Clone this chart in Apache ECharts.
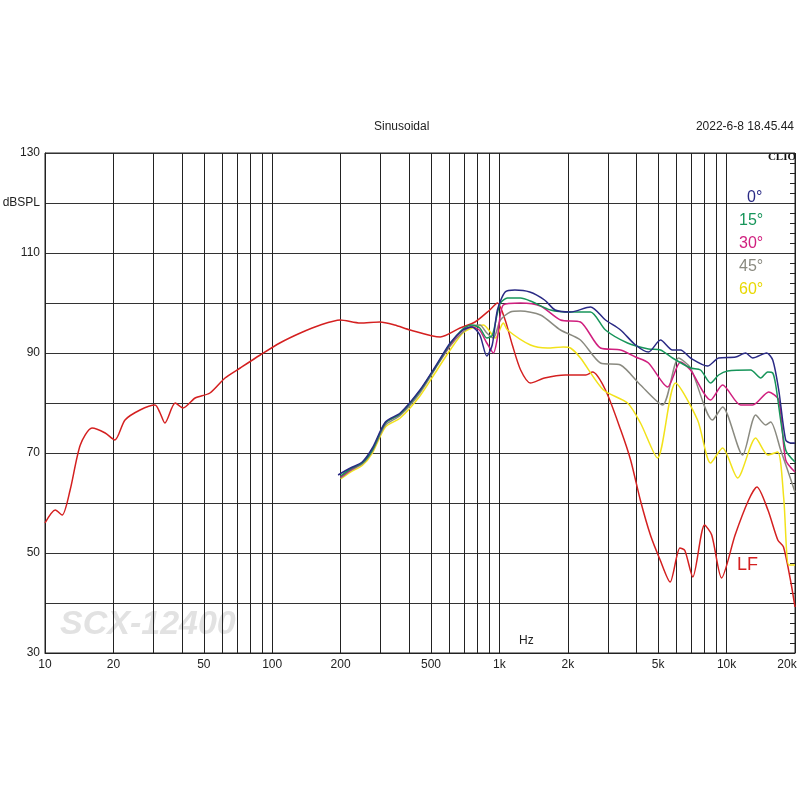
<!DOCTYPE html>
<html><head><meta charset="utf-8">
<script src="https://cdn.jsdelivr.net/npm/echarts@6/dist/echarts.min.js"></script>
<style>html,body{margin:0;padding:0;background:#fff}#c{width:800px;height:800px}</style>
</head><body><div id="c"></div>
<script>
const gridFreqs = [10,20,30,40,50,60,70,80,90,100,200,300,400,500,600,700,800,900,1000,2000,3000,4000,5000,6000,7000,8000,9000,10000,20000];
const tickLabels = {10:'10',20:'20',50:'50',100:'100',200:'200',500:'500',1000:'1k',2000:'2k',5000:'5k',10000:'10k',20000:'20k'};
const yLabels = {30:'30',50:'50',70:'70',90:'90',110:'110',120:'dBSPL',130:'130'};
const seriesNames = ['0°','15°','30°','45°','60°','LF'];
const seriesColors = ['#2a2a85','#17955a','#d0207f','#8a8a80','#f2e21a','#d42020'];

const deg0 = [[195,65.6],[221,67],[249,68.2],[276,71],[315,76.2],[366,78],[447,82.6],[521,87.2],[607,92],[690,94.6],[757,95.2],[820,93.6],[880,89.4],[930,91.6],[980,98.6],[1060,102.2],[1170,102.6],[1360,102.2],[1580,100.6],[1760,98.6],[2055,98.2],[2516,99.2],[2930,96.6],[3413,94.6],[3972,91.6],[4531,90.2],[5117,92.6],[5779,90.6],[6270,90.6],[6937,89],[8241,87.4],[9221,89],[10960,89.2],[12130,90],[13030,89],[15000,90],[15960,88.6],[16960,82.6],[18200,72.6],[19150,72],[20000,72]];
const deg15 = [[200,65.4],[221,66.8],[249,68],[276,70.6],[315,76],[366,77.8],[447,82.4],[521,87],[607,91.8],[690,94.8],[757,95.6],[820,95],[880,93],[930,93.5],[980,98],[1010,100],[1085,101],[1238,101],[1370,100.4],[1678,98.6],[2055,98.2],[2516,98.2],[2931,94.6],[3664,92],[4531,90.8],[5117,90.6],[5779,89],[6937,87],[7677,86.6],[8502,84],[9221,85.6],[10100,86.4],[12760,86.6],[14130,85],[15170,86.2],[15960,86],[16450,83.6],[18200,70.6],[20000,68.2]];
const deg30 = [[200,65.2],[221,66.6],[249,68],[276,70.6],[315,76],[366,77.8],[447,82.4],[521,87],[607,91.6],[690,94.6],[757,95.2],[820,94.5],[880,92],[941,90],[980,93],[1040,99.6],[1238,100],[1516,99.4],[1857,96.6],[2274,96.2],[2785,91],[3413,90.6],[3972,89.2],[4531,88],[5494,83.2],[6270,88.2],[6937,86.6],[8502,80.6],[9600,83.6],[11530,79.6],[13030,79.6],[15310,82.2],[16960,80.6],[18200,68.6],[20000,66.2]];
const deg45 = [[200,65],[221,66.5],[249,67.8],[276,70.4],[315,75.6],[366,77.5],[447,82],[521,86.8],[607,91.4],[690,94.2],[757,95.4],[820,95.6],[880,94],[941,93],[1010,96.6],[1117,98.2],[1238,98.4],[1516,97.6],[1857,94.6],[2274,92.6],[2785,88],[3413,87.6],[4178,83.6],[5224,79.6],[6148,89],[6937,87],[8672,76.6],[9600,79.2],[11760,69.6],[13430,77.6],[14860,75.6],[15630,76.2],[17300,70.6],[20000,62.2]];
const deg60 = [[200,64.8],[221,66.2],[249,67.5],[276,70],[315,75.2],[366,77],[447,81.4],[521,86],[607,90.6],[690,94],[757,95],[851,95.6],[960,93],[1040,96],[1085,94.6],[1370,91.6],[1627,91],[1914,91.2],[2055,91],[2274,89],[2871,82.6],[3664,80],[4178,76],[4963,69],[5958,84],[7450,76.6],[8502,68],[9600,71],[11180,65],[13430,73],[15170,69.6],[16790,70.2],[17840,61],[18760,47.6],[20000,47.6]];
const lf = [[10,56],[11.1,58.6],[11.9,57.6],[12.9,62.6],[14.3,71.6],[16.1,75],[18.4,74],[20.3,72.6],[22.5,76.6],[26.2,78.6],[30.5,79.6],[32.1,78],[33.7,76],[37.4,80],[40.5,79],[45.8,81],[53.2,82],[62,85],[72.3,87],[88.6,89.6],[108,92],[133,94],[163,95.6],[199,96.6],[244,96],[298,96.2],[346,95.6],[405,94.6],[549,93.2],[671,95],[781,96.2],[907,98.6],[980,100],[1060,96.6],[1140,91.6],[1240,86.6],[1370,84],[1580,85],[1950,85.6],[2400,85.6],[2570,86.2],[2930,82.6],[3420,74.6],[3780,68.6],[4170,60.6],[4620,53.6],[5100,48.6],[5640,44.2],[6230,51],[6550,50.5],[7100,45.2],[8000,55.6],[8600,53.6],[9500,45],[10900,53.6],[12500,60.6],[13600,63.2],[15200,58.6],[16800,52.6],[17800,51.2],[19100,44.6],[20000,39.2]];
const allData = [deg0, deg15, deg30, deg45, deg60, lf];

const chart = echarts.init(document.getElementById('c'));
const series = allData.map((d,i)=>({
  name: seriesNames[i], type:'line', data:d, showSymbol:false, smooth:0.25,
  lineStyle:{color:seriesColors[i], width:1.5}, z: 10-i
}));
series.push({
  type:'line', data:[], silent:true,
  markLine:{silent:true, symbol:['none','none'], animation:false,
    lineStyle:{color:'#222', width:1, type:'solid'},
    label:{show:true, position:'start', distance:6, color:'#222', fontSize:12, fontFamily:'Liberation Sans',
      formatter:p=>tickLabels[p.value]||''},
    data: gridFreqs.map(f=>f===20000 ? {xAxis:f, label:{offset:[-8,0]}} : {xAxis:f})}
});
chart.setOption({
  animation:false,
  grid:{left:45, right:5, top:153, bottom:147, show:true, borderColor:'#222', borderWidth:1, outerBoundsMode:'none', containLabel:false},
  xAxis:{type:'log', min:10, max:20000, logBase:10, axisLabel:{show:false}, axisTick:{show:false}, splitLine:{show:false}, axisLine:{lineStyle:{color:'#222'}}},
  yAxis:[{type:'value', min:30, max:130, interval:10,
    axisLabel:{color:'#222', fontSize:12, margin:5, fontFamily:'Liberation Sans', formatter:v=>yLabels[v]||''},
    axisTick:{show:false}, axisLine:{show:true,lineStyle:{color:'#222'}},
    splitLine:{lineStyle:{color:'#333', width:1}}},
    {type:'value', min:30, max:130, interval:2, position:'right', axisLabel:{show:false},
     axisTick:{show:true, inside:true, length:5, lineStyle:{color:'#222'}}, axisLine:{show:false}, splitLine:{show:false}}],
  series: series,
  graphic:[
    {type:'text', left:374, top:121, style:{text:'Sinusoidal', fontSize:12, fill:'#222', fontFamily:'Liberation Sans'}},
    {type:'text', right:6, top:121, style:{text:'2022-6-8 18.45.44', fontSize:12, fill:'#222', fontFamily:'Liberation Sans'}},
    {type:'text', right:4, top:152, style:{text:'CLIO', fontSize:11, fontWeight:'bold', fill:'#111', fontFamily:'Liberation Serif'}},
    {type:'text', left:519, top:635, style:{text:'Hz', fontSize:12, fill:'#222', fontFamily:'Liberation Sans'}},
    {type:'text', left:60, top:608, z:0, style:{text:'SCX-12400', fontSize:34, fontStyle:'italic', fontWeight:'bold', fill:'#e2e2e2', fontFamily:'Liberation Sans'}},
    {type:'text', left:747, top:190, style:{text:'0°', fontSize:16, fill:seriesColors[0], fontFamily:'Liberation Sans'}},
    {type:'text', left:739, top:213, style:{text:'15°', fontSize:16, fill:seriesColors[1], fontFamily:'Liberation Sans'}},
    {type:'text', left:739, top:236, style:{text:'30°', fontSize:16, fill:seriesColors[2], fontFamily:'Liberation Sans'}},
    {type:'text', left:739, top:259, style:{text:'45°', fontSize:16, fill:seriesColors[3], fontFamily:'Liberation Sans'}},
    {type:'text', left:739, top:282, style:{text:'60°', fontSize:16, fill:'#e8d800', fontFamily:'Liberation Sans'}},
    {type:'text', left:737, top:556, style:{text:'LF', fontSize:18, fill:seriesColors[5], fontFamily:'Liberation Sans'}}
  ]
});
</script></body></html>
